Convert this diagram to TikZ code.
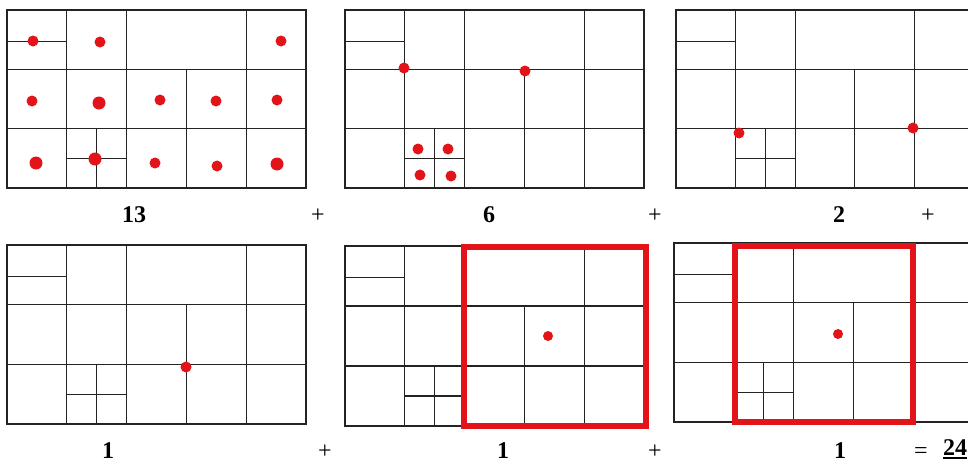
\documentclass[tikz,border=0pt]{standalone}
\usepackage{fontspec}
\setmainfont{Liberation Serif}
\definecolor{dotred}{RGB}{226,20,26}
\definecolor{gridgray}{RGB}{35,35,35}
\tikzset{
  gridline/.style={draw=gridgray, line width=1.3pt},
  redframe/.style={draw=dotred, line width=6pt, line join=miter},
  dot/.style={fill=dotred},
  numlabel/.style={anchor=base, inner sep=0pt, font=\fontsize{24}{26}\selectfont\bfseries},
  oplabel/.style={anchor=base, inner sep=0pt, font=\fontsize{24}{26}\selectfont},
}
\newcommand{\gridpanel}[4]{%
  \begin{scope}[shift={(#1,#2)}, x=#3pt, y=-#4pt]
    \draw[gridline] (0,0) rectangle (5,3);
    \draw[gridline] (0,1) -- (5,1) (0,2) -- (5,2);
    \draw[gridline] (1,0) -- (1,3) (2,0) -- (2,3) (4,0) -- (4,3) (3,1) -- (3,3);
    \draw[gridline] (0,0.53) -- (1,0.53) (1.5,2) -- (1.5,3) (1,2.5) -- (2,2.5);
  \end{scope}}
\begin{document}
\begin{tikzpicture}[x=1pt, y=-1pt]
  \fill[white] (0,0) rectangle (968,466);
  \useasboundingbox (0,0) rectangle (968,466);
  \clip (0,0) rectangle (968,466);
  % grids
  \gridpanel{7}{10}{59.8}{59.3}
  \gridpanel{345}{10}{59.8}{59.3}
  \gridpanel{676}{10}{59.6}{59.3}
  \gridpanel{7}{245}{59.8}{59.7}
  \gridpanel{345}{246}{59.8}{60}
  \gridpanel{674}{243}{59.8}{59.7}
  % red frames
  \draw[redframe] (464,247) rectangle (646,426);
  \draw[redframe] (735,246) rectangle (913,422);
  % panel 1 dots
  \fill[dot] (33,41) circle (5.5) (100,42) circle (5.5) (281,41) circle (5.5);
  \fill[dot] (32,101) circle (5.5) (99,103) circle (6.5) (160,100) circle (5.5) (216,101) circle (5.5) (277,100) circle (5.5);
  \fill[dot] (36,163) circle (6.5) (95,159) circle (6.5) (155,163) circle (5.5) (217,166) circle (5.5) (277,164) circle (6.5);
  % panel 2 dots
  \fill[dot] (404,68) circle (5.5) (525,71) circle (5.5);
  \fill[dot] (418,149) circle (5.5) (448,149) circle (5.5) (420,175) circle (5.5) (451,176) circle (5.5);
  % panel 3 dots
  \fill[dot] (739,133) circle (5.5) (913,128) circle (5.5);
  % panel 4-6 dots
  \fill[dot] (186,367) circle (5.5);
  \fill[dot] (548,336) circle (5);
  \fill[dot] (838,334) circle (5);
  % labels
  \node[numlabel] (n13) at (134,222) {13};
  \node[oplabel] (p1) at (318,222) {+};
  \node[numlabel] (n6) at (489,222) {6};
  \node[oplabel] (p2) at (655,222) {+};
  \node[numlabel] (n2) at (839,222) {2};
  \node[oplabel] (p3) at (928,222) {+};
  \node[numlabel] (n1a) at (108,458) {1};
  \node[oplabel] (p4) at (325,458) {+};
  \node[numlabel] (n1b) at (503,458) {1};
  \node[oplabel] (p5) at (655,458) {+};
  \node[numlabel] (n1c) at (840,458) {1};
  \node[oplabel] (eq) at (921,458) {=};
  \node[numlabel] (tot) at (955,455) {24};
  \draw[line width=1.8pt] (tot.base west) ++(0,3) coordinate (ul1) -- ([yshift=-3pt]tot.base east) coordinate (ul2);
\end{tikzpicture}
\end{document}
